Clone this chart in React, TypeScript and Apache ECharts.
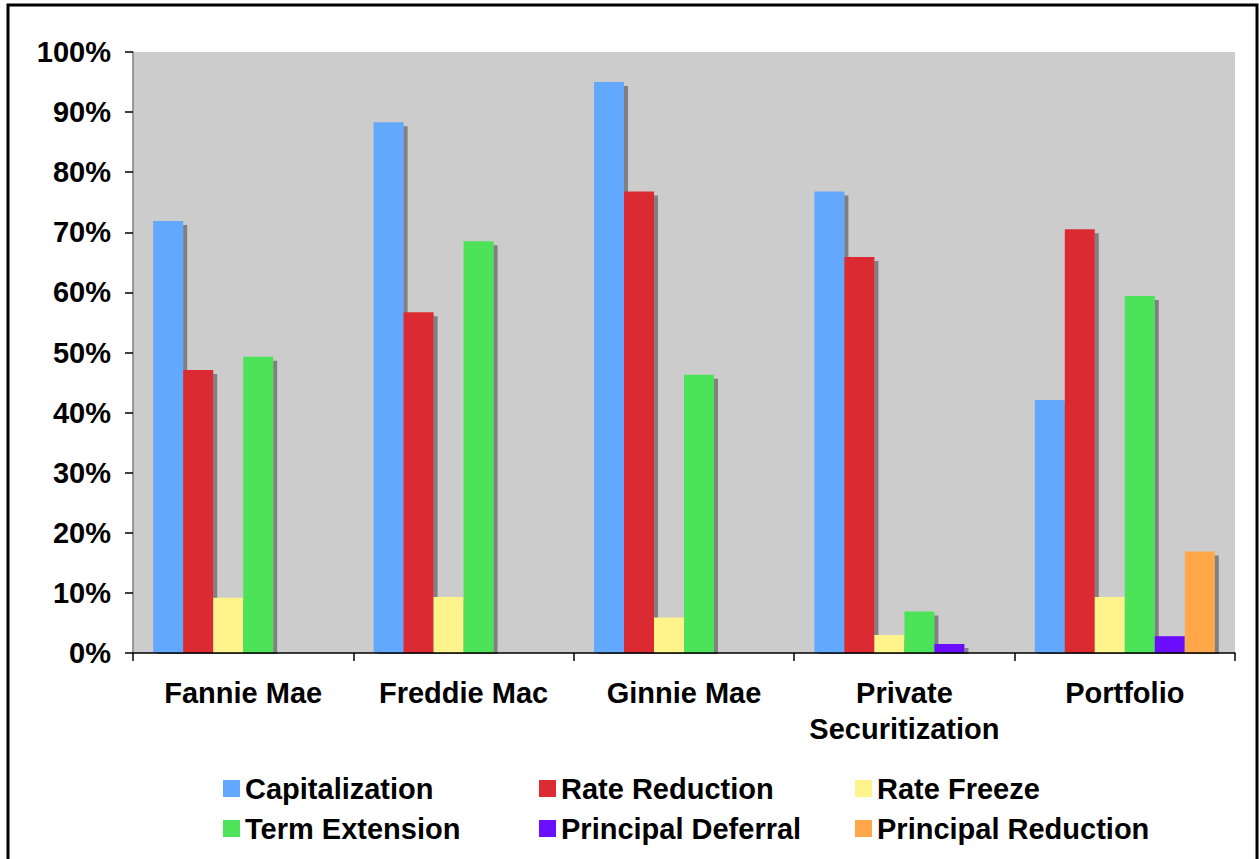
import React, { useEffect, useRef } from "react";
import * as echarts from "echarts";

const categories = ["Fannie Mae", "Freddie Mac", "Ginnie Mae", "Private\nSecuritization", "Portfolio"];
const seriesNames = [
  "Capitalization",
  "Rate Reduction",
  "Rate Freeze",
  "Term Extension",
  "Principal Deferral",
  "Principal Reduction",
];
const capitalization = [71.9, 88.3, 95.0, 76.8, 42.1];
const rateReduction = [47.1, 56.7, 76.8, 65.9, 70.5];
const rateFreeze = [9.2, 9.3, 5.9, 3.0, 9.3];
const termExtension = [49.3, 68.5, 46.3, 6.9, 59.4];
const principalDeferral = [0, 0, 0, 1.5, 2.8];
const principalReduction = [0, 0, 0, 0, 16.9];
const colors = ["#62A8FF", "#DC2C33", "#FFF48C", "#4EE358", "#6B10FF", "#FFA74A"];

const FONT = '"Liberation Sans", Arial, sans-serif';

export default function App() {
  const ref = useRef<HTMLDivElement>(null);
  useEffect(() => {
    if (!ref.current) return;
    const chart = echarts.init(ref.current, null, { renderer: "svg" });
    const values = [
      capitalization,
      rateReduction,
      rateFreeze,
      termExtension,
      principalDeferral,
      principalReduction,
    ];
    const legendText = {
      fontFamily: FONT,
      fontWeight: "bold" as const,
      fontSize: 29,
      color: "#000",
      lineHeight: 28,
    };
    const mkLegend = (names: string[], left: number) => ({
      orient: "vertical" as const,
      left,
      top: 769,
      itemWidth: 17,
      itemHeight: 17,
      itemGap: 11,
      icon: "rect",
      selectedMode: false,
      data: names,
      textStyle: legendText,
    });
    chart.setOption({
      animation: false,
      backgroundColor: "#fff",
      color: colors,
      grid: {
        left: 133,
        right: 24,
        top: 52,
        bottom: 206,
        show: true,
        backgroundColor: "#CCCCCC",
        borderWidth: 0,
      },
      legend: [
        mkLegend([seriesNames[0], seriesNames[3]], 218),
        mkLegend([seriesNames[1], seriesNames[4]], 534),
        mkLegend([seriesNames[2], seriesNames[5]], 850),
      ],
      xAxis: {
        type: "category",
        data: categories,
        axisLine: { show: true, lineStyle: { color: "#000", width: 1.5 } },
        axisTick: { show: true, length: 8, lineStyle: { color: "#000", width: 1.5 } },
        axisLabel: {
          interval: 0,
          margin: 22,
          fontFamily: FONT,
          fontWeight: "bold",
          fontSize: 29,
          lineHeight: 36,
          color: "#000",
        },
        z: 5,
      },
      yAxis: {
        type: "value",
        min: 0,
        max: 100,
        interval: 10,
        axisLine: { show: true, lineStyle: { color: "#808080", width: 1.5 } },
        axisTick: { show: true, length: 8, lineStyle: { color: "#000", width: 1.5 } },
        axisLabel: {
          margin: 22,
          formatter: "{value}%",
          fontFamily: FONT,
          fontWeight: "bold",
          fontSize: 29,
          color: "#000",
        },
        splitLine: {
          show: true,
          lineStyle: { color: "#000", width: 1, shadowColor: "#8a8a8a", shadowOffsetY: 1, shadowBlur: 0 },
        },
        z: 5,
      },
      series: seriesNames.map((name, i) => ({
        name,
        type: "bar",
        data: values[i],
        barWidth: 30,
        barGap: "0%",
        z: 2,
        itemStyle: {
          color: colors[i],
          shadowColor: "#808080",
          shadowOffsetX: 4,
          shadowOffsetY: 4,
          shadowBlur: 0,
        },
      })),
      graphic: [
        {
          type: "rect",
          silent: true,
          z: 3,
          shape: { x: 134, y: 654, width: 1110, height: 6 },
          style: { fill: "#fff" },
        },
        {
          type: "rect",
          silent: true,
          z: 100,
          shape: { x: 8, y: 5, width: 1249, height: 900 },
          style: { fill: "none", stroke: "#000", lineWidth: 3 },
        },
      ],
    });
    return () => chart.dispose();
  }, []);
  return (
    <div
      ref={ref}
      style={{ position: "fixed", left: 0, top: 0, width: 1259, height: 859 }}
    />
  );
}
